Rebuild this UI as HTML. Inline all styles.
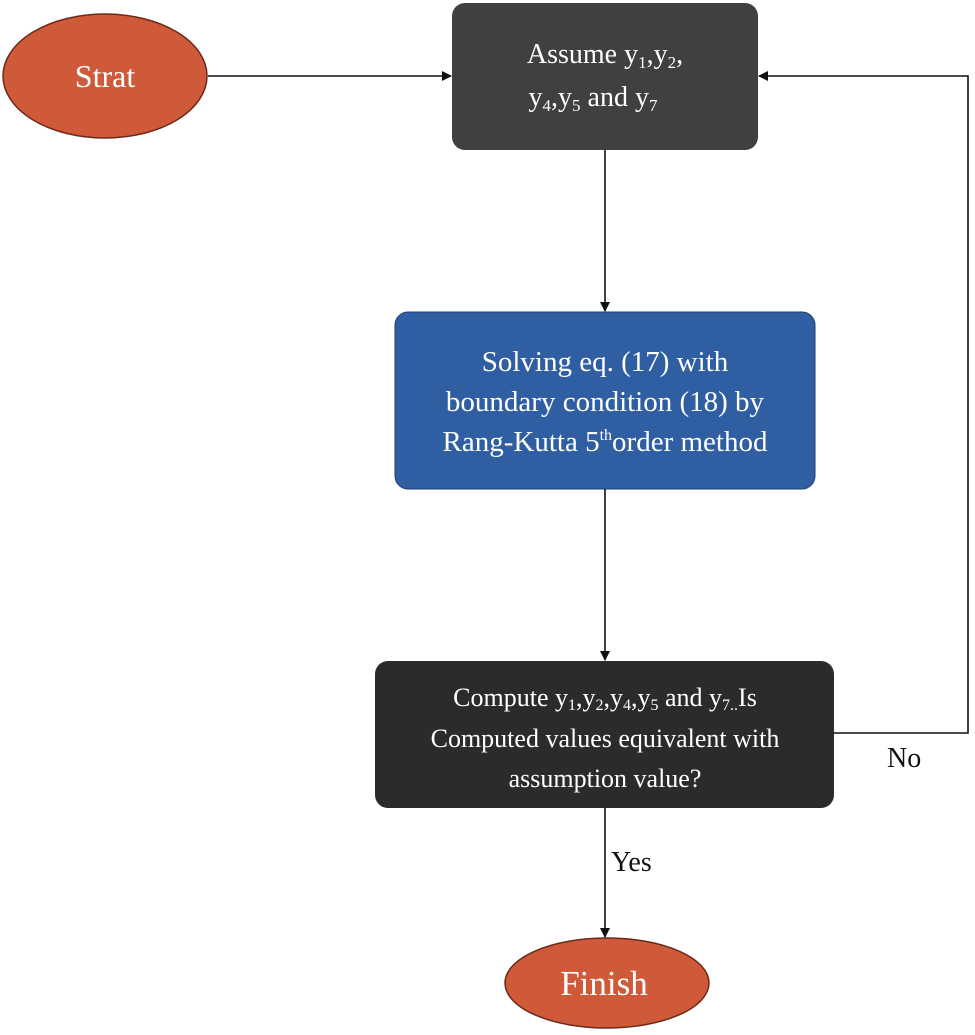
<!DOCTYPE html>
<html><head><meta charset="utf-8"><style>
html,body{margin:0;padding:0;background:#fff;}
svg text{font-family:"Liberation Serif",serif;fill:#fff;}
</style></head><body>
<svg width="975" height="1030" viewBox="0 0 975 1030" xmlns="http://www.w3.org/2000/svg">
<defs><marker id="a" markerWidth="10" markerHeight="10" refX="9" refY="5" orient="auto" markerUnits="userSpaceOnUse"><path d="M0,0 L10,5 L0,10 z" fill="#111"/></marker></defs>
<ellipse cx="105" cy="76" rx="102" ry="62" fill="#cf5a3a" stroke="#6b2a18" stroke-width="1.5"/>
<text x="105" y="87" font-size="32" text-anchor="middle">Strat</text>
<rect x="452" y="3" width="306" height="147" rx="13" fill="#404040"/>
<text x="605" y="63" font-size="28" text-anchor="middle">Assume y<tspan font-size="17" dy="5">1</tspan><tspan dy="-5">,y</tspan><tspan font-size="17" dy="5">2</tspan><tspan dy="-5">,</tspan></text>
<text x="593" y="106" font-size="28" text-anchor="middle">y<tspan font-size="17" dy="5">4</tspan><tspan dy="-5">,y</tspan><tspan font-size="17" dy="5">5</tspan><tspan dy="-5"> and y</tspan><tspan font-size="17" dy="5">7</tspan></text>
<rect x="395" y="312" width="420" height="177" rx="13" fill="#2f5fa2" stroke="#1f3f70" stroke-width="1"/>
<text x="605" y="371" font-size="29" text-anchor="middle">Solving eq. (17) with</text>
<text x="605" y="411" font-size="29" text-anchor="middle">boundary condition (18) by</text>
<text x="605" y="451" font-size="29" text-anchor="middle">Rang-Kutta 5<tspan font-size="16" dy="-11">th</tspan><tspan dy="11">order method</tspan></text>
<rect x="375" y="661" width="459" height="147" rx="13" fill="#2b2b2b"/>
<text x="605" y="706" font-size="26" text-anchor="middle">Compute y<tspan font-size="16" dy="4">1</tspan><tspan dy="-4">,y</tspan><tspan font-size="16" dy="4">2</tspan><tspan dy="-4">,y</tspan><tspan font-size="16" dy="4">4</tspan><tspan dy="-4">,y</tspan><tspan font-size="16" dy="4">5</tspan><tspan dy="-4"> and y</tspan><tspan font-size="16" dy="4">7..</tspan><tspan dy="-4">Is</tspan></text>
<text x="605" y="747" font-size="26" text-anchor="middle">Computed values equivalent with</text>
<text x="605" y="787" font-size="26" text-anchor="middle">assumption value?</text>
<ellipse cx="607" cy="983" rx="102" ry="45" fill="#cf5a3a" stroke="#6b2a18" stroke-width="1.5"/>
<text x="604" y="995" font-size="35" text-anchor="middle">Finish</text>
<g stroke="#111" stroke-width="1.6" fill="none">
<line x1="208" y1="76" x2="451" y2="76" marker-end="url(#a)"/>
<line x1="605" y1="150" x2="605" y2="311" marker-end="url(#a)"/>
<line x1="605" y1="489" x2="605" y2="660" marker-end="url(#a)"/>
<line x1="605" y1="808" x2="605" y2="937" marker-end="url(#a)"/>
<polyline points="834,733 968,733 968,76 759,76" marker-end="url(#a)"/>
</g>
<text x="887" y="767" font-size="28" style="fill:#111">No</text>
<text x="611" y="871" font-size="28" style="fill:#111">Yes</text>
</svg>
</body></html>
